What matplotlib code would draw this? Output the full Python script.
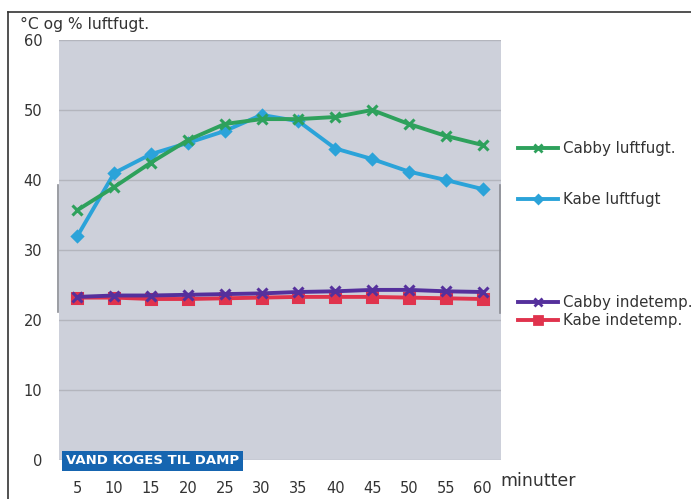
import matplotlib
matplotlib.use("Agg")
import matplotlib.pyplot as plt
from matplotlib.lines import Line2D

minutes = [5, 10, 15, 20, 25, 30, 35, 40, 45, 50, 55, 60]
cabby_luft = [35.7, 39.0, 42.5, 45.7, 48.0, 48.7, 48.7, 49.0, 50.0, 48.0, 46.3, 45.0]
kabe_luft = [32.0, 41.0, 43.7, 45.3, 47.0, 49.3, 48.4, 44.5, 43.0, 41.2, 40.0, 38.7]
cabby_inde = [23.3, 23.5, 23.5, 23.6, 23.7, 23.8, 24.0, 24.1, 24.3, 24.3, 24.1, 24.0]
kabe_inde = [23.2, 23.2, 23.0, 23.0, 23.1, 23.2, 23.3, 23.3, 23.3, 23.2, 23.1, 23.0]
yticks = [0, 10, 20, 30, 40, 50, 60]

W, H = 691, 499
fig = plt.figure(figsize=(W / 100, H / 100), dpi=100)
fig.patch.set_facecolor("white")

def fx(px):
    return px / W

def fy(py):
    return 1 - py / H

ax = fig.add_axes([fx(59), fy(460), fx(501) - fx(59), fy(40) - fy(460)])
ax.set_facecolor("#cdd0da")
for s in ax.spines.values():
    s.set_visible(False)

x = list(range(len(minutes)))
series = [
    (cabby_luft, "#2ea15c", "x", 7, "Cabby luftfugt."),
    (kabe_luft, "#2ba3d9", "D", 5, "Kabe luftfugt"),
    (cabby_inde, "#55309c", "x", 7, "Cabby indetemp."),
    (kabe_inde, "#e0334d", "s", 7, "Kabe indetemp."),
]
for vals, col, mk, ms, lab in [series[3], series[2], series[1], series[0]]:
    ax.plot(x, vals, color=col, lw=2.8, marker=mk, ms=ms, mew=2.2, mfc=col, mec=col, zorder=3)

ax.set_xlim(-0.5, len(minutes) - 0.5)
ax.set_ylim(0, 60)
ax.set_yticks(yticks)
ax.set_yticklabels([str(v) for v in yticks], fontsize=10.5, color="#333333")
ax.set_xticks(x)
ax.set_xticklabels([str(m) for m in minutes], fontsize=10.5, color="#333333")
ax.tick_params(axis="both", length=0)
ax.tick_params(axis="y", pad=12)
ax.tick_params(axis="x", pad=15)
ax.yaxis.grid(True, color="#b3b5bd", lw=1)
ax.set_axisbelow(True)

# outer frame
fig.add_artist(Line2D([fx(8), fx(8)], [fy(12), 0], color="#333333", lw=1.2))
fig.add_artist(Line2D([fx(8), 1], [fy(12), fy(12)], color="#333333", lw=1.2))
# gray vertical bars
fig.add_artist(Line2D([fx(58), fx(58)], [fy(185), fy(312)], color="#8a8c94", lw=1.2))
fig.add_artist(Line2D([fx(500), fx(500)], [fy(185), fy(313)], color="#8a8c94", lw=1.2))

fig.text(fx(20), fy(24), "°C og % luftfugt.", fontsize=11.2, color="#333333", va="center", ha="left")
fig.text(fx(500), fy(481), "minutter", fontsize=12.5, color="#333333", va="center", ha="left")

# label box
fig.text(fx(66), fy(461), "VAND KOGES TIL DAMP", fontsize=9.5, fontweight="bold", color="white",
         va="center", ha="left",
         bbox=dict(boxstyle="square,pad=0.3", fc="#1665b0", ec="none"))

# manual legend
leg_y = [148, 199, 302, 320]
for (vals, col, mk, ms, lab), py in zip(series, leg_y):
    fig.add_artist(Line2D([fx(518), fx(558)], [fy(py), fy(py)], color=col, lw=2.8))
    fig.add_artist(Line2D([fx(538)], [fy(py)], color=col, marker=mk, ms=ms - 1, mew=2, mfc=col, mec=col))
    fig.text(fx(563), fy(py), lab, fontsize=10.8, color="#333333", va="center", ha="left")

fig.savefig("out.png", dpi=100)
